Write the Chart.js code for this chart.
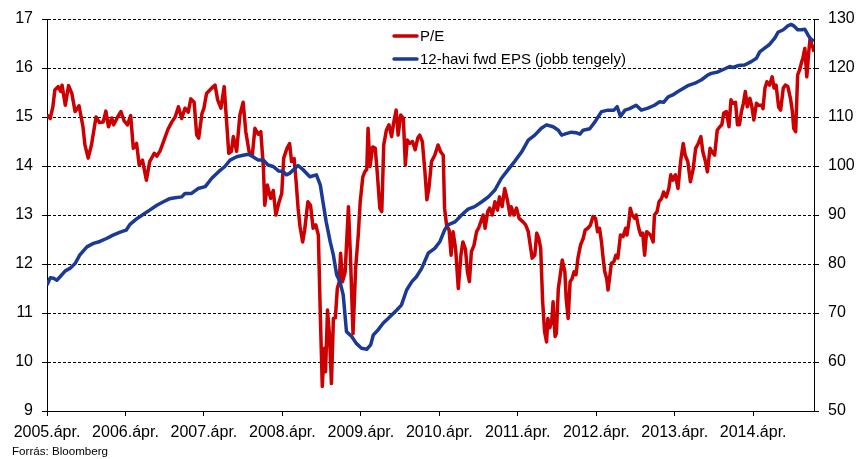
<!DOCTYPE html>
<html><head><meta charset="utf-8">
<script src="https://cdn.jsdelivr.net/npm/chart.js@4"></script>
<style>html,body{margin:0;padding:0;background:#fff;}#wrap{width:867px;height:459px;position:relative;}</style>
</head><body><div id="wrap"><canvas id="c" width="867" height="459"></canvas></div>
<script>
// x values: months since 2005 April
const tickMonths = [0,12,24,36,48,60,72,84,96,108];
const tickLabels = ["2005.ápr.","2006.ápr.","2007.ápr.","2008.ápr.","2009.ápr.","2010.ápr.","2011.ápr.","2012.ápr.","2013.ápr.","2014.ápr."];
const seriesLabels = ["P/E","12-havi fwd EPS (jobb tengely)"];
const sourceText = "Forrás: Bloomberg";

const peMonths = [0,0.5,0.9,1.2,1.7,2.1,2.3,2.8,3.3,3.8,4.3,4.9,5.5,5.8,6.3,6.8,7.5,8.0,8.6,9.0,9.4,9.9,10.2,10.8,11.3,11.8,12.3,12.8,13.2,13.7,14.1,14.6,15.2,15.7,16.4,16.8,17.3,17.9,18.5,19.1,19.6,20.1,20.6,21.1,21.6,22.0,22.5,22.9,23.2,23.7,24.0,24.4,25.2,25.7,26.1,26.6,27.1,27.5,27.8,28.2,28.5,29.0,29.5,30.0,30.4,30.9,31.4,31.8,32.3,32.7,33.1,33.3,33.7,34.2,34.6,35.0,35.5,35.9,36.2,36.7,37.1,37.4,37.8,38.1,38.4,38.7,39.1,39.4,39.9,40.3,40.7,41.1,41.5,41.8,42.1,42.4,42.6,42.9,43.2,43.5,43.8,44.1,44.4,44.7,44.9,45.2,45.6,46.1,46.4,46.8,47.2,47.6,47.9,48.3,48.6,48.9,49.1,49.4,49.8,50.2,50.5,50.9,51.2,51.5,51.9,52.3,52.7,53.0,53.4,53.7,54.1,54.5,54.8,55.1,55.5,55.9,56.3,56.7,57.0,57.4,57.8,58.1,58.4,58.8,59.3,59.8,60.2,60.6,60.8,61.1,61.5,61.8,62.1,62.5,62.9,63.3,63.6,64.0,64.3,64.6,64.9,65.3,65.7,66.0,66.7,67.0,67.4,67.7,68.1,68.5,68.9,69.2,69.6,70.0,70.4,70.8,71.0,71.4,71.8,72.2,72.8,73.2,73.6,73.9,74.2,74.6,74.9,75.2,75.5,75.8,76.1,76.4,76.6,76.9,77.2,77.4,77.7,77.9,78.2,78.5,78.8,79.2,79.4,79.7,80.0,80.3,80.6,80.9,81.2,81.6,82.0,82.3,82.7,83.1,83.5,83.9,84.2,84.5,84.8,85.0,85.3,85.6,85.8,86.1,86.3,86.7,87.0,87.3,87.7,88.1,88.5,88.7,89.0,89.2,89.5,89.9,90.1,90.5,90.8,91.1,91.4,91.7,92.3,92.7,92.9,93.3,93.6,94.0,94.3,94.7,95.1,95.4,95.7,96.1,96.5,96.9,97.3,97.6,98.0,98.4,98.8,99.2,99.6,100.0,100.3,100.7,101.0,101.4,101.7,102.1,102.5,102.9,103.2,103.5,103.9,104.3,104.6,104.9,105.3,105.6,105.9,106.2,106.5,106.8,107.1,107.5,107.8,108.1,108.5,108.8,109.3,109.5,109.8,110.1,110.5,110.9,111.2,111.5,111.9,112.2,112.6,112.9,113.3,113.7,114.0,114.2,114.5,114.8,115.1,115.4,115.6,115.9,116.2,116.5,116.7,116.9,117.1,117.3];
const peValues = [15.04,14.97,15.21,15.55,15.62,15.52,15.65,15.24,15.64,15.48,15.11,15.23,14.80,14.43,14.16,14.43,15.0,14.89,14.9,15.12,14.80,14.98,14.84,15.0,15.11,14.92,14.84,15.03,14.36,14.46,14.02,14.12,13.71,14.09,14.26,14.2,14.31,14.53,14.75,14.9,15.0,15.21,14.97,15.18,15.1,15.37,15.3,14.63,14.57,15.07,15.18,15.48,15.59,15.65,15.35,15.18,15.62,14.84,14.26,14.3,14.6,14.3,15.04,15.3,14.7,14.3,14.22,14.77,14.65,14.7,13.95,13.2,13.61,13.34,13.5,13.0,13.27,13.44,14.16,14.36,14.46,14.09,14.15,13.68,13.14,12.76,12.45,12.69,13.27,13.2,12.73,12.8,12.59,10.96,9.5,10.28,9.8,11.06,10.55,9.56,10.89,10.9,11.5,11.64,12.22,11.64,11.84,13.17,12.18,10.58,11.91,12.59,13.27,13.78,13.88,13.93,14.77,13.99,14.39,14.36,13.88,13.14,13.07,14.43,14.73,14.84,14.6,14.87,15.14,14.63,15.04,14.97,14.02,14.53,14.46,14.5,14.33,14.57,14.63,14.5,13.88,13.31,13.54,14.09,14.22,14.43,14.29,14.22,13.14,12.8,12.69,12.18,12.66,12.3,11.5,12.18,12.45,12.3,11.84,11.64,12.25,12.38,12.66,12.73,13.0,12.73,13.07,13.14,13.0,13.27,13.1,13.37,13.17,13.54,13.31,13.0,13.17,13.0,13.14,12.93,12.86,12.8,12.66,12.39,12.12,12.18,12.63,12.53,12.32,11.23,10.62,10.41,10.89,10.7,10.85,11.23,10.52,10.58,11.5,11.78,12.08,11.84,11.3,10.89,11.64,11.7,11.84,11.78,12.12,12.39,12.52,12.69,12.73,12.79,12.97,12.93,12.66,12.73,12.45,12.18,11.84,11.7,11.47,11.78,12.01,12.05,12.18,12.12,12.59,12.56,12.73,12.59,12.86,13.14,13.0,12.93,13.0,12.73,12.59,12.63,12.18,12.66,12.59,12.45,13.0,13.07,13.27,13.34,13.47,13.37,13.54,13.82,13.71,13.82,13.54,14.09,14.46,14.22,14.09,13.68,13.92,14.36,14.46,14.6,14.29,14.09,13.88,14.36,14.29,14.22,14.73,14.80,14.84,15.08,15.11,14.8,15.35,15.28,15.3,14.84,14.84,15.11,15.28,15.52,15.21,15.38,15.21,14.94,15.28,15.24,15.24,15.17,15.59,15.72,15.65,15.82,15.59,15.65,15.2,15.14,15.59,15.65,15.62,15.38,15.11,14.77,14.7,15.86,15.96,16.12,16.2,16.4,15.82,16.33,16.6,16.5,16.43,16.33];

const epsMonths = [0,0.5,1.0,1.5,2.0,2.8,3.5,4.3,5.0,6.1,7.1,8.1,9.1,10.1,11.2,12.1,12.7,13.7,14.7,15.7,16.8,17.8,18.7,19.6,20.6,21.1,22.1,23.1,24.2,25.2,26.2,27.2,28.0,29.0,30.0,30.8,31.5,32.3,33.1,33.8,34.6,35.4,36.1,36.6,37.1,37.9,38.4,39.2,40.2,41.2,41.8,42.2,42.7,43.3,43.8,44.3,44.8,45.3,45.8,46.6,47.3,48.1,48.9,49.5,49.9,50.6,51.4,52.4,53.5,54.2,55.0,55.8,56.5,57.3,58.3,59.3,60.1,60.8,61.3,62.4,63.4,64.4,65.4,66.5,67.5,68.5,69.5,70.5,71.5,72.6,73.6,74.6,75.6,76.4,77.4,78.2,78.7,79.4,80.2,80.9,81.5,82.0,83.0,83.8,84.8,85.8,86.7,87.2,87.7,88.4,89.1,90.1,90.9,91.9,92.9,93.7,94.3,95.0,95.7,96.5,98.0,99.1,100.1,101.1,101.6,102.6,103.6,104.4,104.9,105.7,106.7,107.7,108.5,109.0,109.8,110.5,111.3,111.8,112.6,113.3,113.8,114.2,114.8,115.4,115.9,116.4,116.8,117.3];
const epsValues = [75.7,77.2,77.1,76.7,77.4,78.6,79.1,80.1,81.8,83.5,84.2,84.6,85.2,85.9,86.5,86.9,88.1,89.2,90.1,91.0,92.0,92.7,93.3,93.5,93.7,94.4,94.4,95.4,95.8,97.5,98.8,99.9,101.2,101.9,102.2,102.4,101.9,101.2,101.2,100.2,99.9,99.0,98.9,98.2,98.5,99.5,100.1,99.2,97.8,98.2,96.1,92.7,88.6,84.6,81.8,77.8,76.4,73.7,66.2,65.2,63.8,62.8,62.6,63.5,65.5,66.5,67.9,69.2,70.6,71.6,74.7,76.4,77.4,79.1,82.2,83.2,84.6,86.9,88.0,88.6,90.0,91.2,91.7,92.7,93.7,95.1,97.5,99.2,100.9,102.9,105.3,106.3,107.7,108.4,108.0,107.3,106.3,106.6,106.9,106.8,106.5,107.3,107.6,109.0,111.1,111.4,111.4,112.1,110.1,111.4,111.7,112.4,111.4,111.8,112.4,113.1,113.0,114.1,114.5,115.2,116.4,116.9,117.6,118.6,118.9,119.2,119.8,120.3,120.1,120.5,120.6,121.3,122.0,123.3,124.1,124.8,126.1,127.3,127.8,128.6,128.9,128.6,127.8,127.8,127.9,126.7,125.9,125.5];

const RED = '#CC0000';
const BLUE = '#1B3A93';
const FONT = "'Liberation Sans', Arial, sans-serif";

const overlay = {
  id: 'overlay',
  afterDraw(chart) {
    const ctx = chart.ctx;
    ctx.save();
    const items = [[RED, seriesLabels[0], 36], [BLUE, seriesLabels[1], 59]];
    items.forEach(([c, t, y]) => {
      ctx.strokeStyle = c; ctx.lineWidth = 3.5; ctx.lineCap = 'round';
      ctx.beginPath(); ctx.moveTo(394, y); ctx.lineTo(417, y); ctx.stroke();
      ctx.fillStyle = '#000'; ctx.font = '15px ' + FONT; ctx.textBaseline = 'middle'; ctx.textAlign = 'left';
      ctx.fillText(t, 420, y + 1);
    });
    ctx.font = '11.6px ' + FONT; ctx.textBaseline = 'alphabetic';
    ctx.fillStyle = '#000';
    ctx.fillText(sourceText, 12, 455);
    ctx.restore();
  }
};

new Chart(document.getElementById('c'), {
  type: 'line',
  data: {
    datasets: [
      { label: seriesLabels[0], data: peMonths.map((m, i) => ({x: m, y: peValues[i]})), yAxisID: 'y',
        borderColor: RED, backgroundColor: RED, borderWidth: 3.5, pointRadius: 0, tension: 0, borderJoinStyle: 'round', order: 2 },
      { label: seriesLabels[1], data: epsMonths.map((m, i) => ({x: m, y: epsValues[i]})), yAxisID: 'y1',
        borderColor: BLUE, backgroundColor: BLUE, borderWidth: 3.5, pointRadius: 0, tension: 0, borderJoinStyle: 'round', order: 1 }
    ]
  },
  options: {
    responsive: false, animation: false, events: [],
    layout: { padding: { top: 19, left: 0, right: 0, bottom: 0 } },
    plugins: { legend: { display: false }, tooltip: { enabled: false }, title: { display: false } },
    scales: {
      x: {
        type: 'linear', min: 0, max: 117.3,
        afterBuildTicks: s => { s.ticks = tickMonths.map(v => ({ value: v })); },
        afterFit: s => { s.height = 48; },
        ticks: { autoSkip: false, maxRotation: 0, padding: 7, color: '#000', font: { size: 16, family: FONT },
                 callback: v => tickLabels[tickMonths.indexOf(v)] },
        grid: { drawOnChartArea: false, tickLength: 5, color: '#000' },
        border: { color: '#000', width: 1 }
      },
      y: {
        position: 'left', min: 9, max: 17,
        afterFit: s => { s.width = 47; },
        ticks: { stepSize: 1, padding: 9, color: '#000', font: { size: 16, family: FONT } },
        grid: { color: '#000', lineWidth: 1, tickLength: 5 },
        border: { color: '#000', width: 1, dash: [3, 2] }
      },
      y1: {
        position: 'right', min: 50, max: 130,
        afterFit: s => { s.width = 53; },
        ticks: { stepSize: 10, padding: 9, color: '#000', font: { size: 16, family: FONT } },
        grid: { drawOnChartArea: false, tickLength: 5, color: '#000' },
        border: { color: '#000', width: 1 }
      }
    }
  },
  plugins: [overlay]
});
</script></body></html>
